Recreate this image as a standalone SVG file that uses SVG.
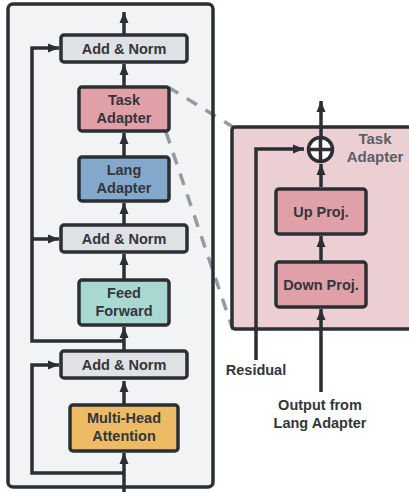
<svg xmlns="http://www.w3.org/2000/svg" width="409" height="492" viewBox="0 0 409 492">
<defs>
<marker id="ah" markerUnits="userSpaceOnUse" markerWidth="12" markerHeight="12" viewBox="0 0 12 12" refX="11" refY="6" orient="auto">
<path d="M0,1.5 L11,6 L0,10.5 Z" fill="#2b2f34"/>
</marker>
</defs>
<style>
.box{stroke:#2b2f34;stroke-width:3.5}
.ln{fill:none;stroke:#2b2f34;stroke-width:3.5}
.t{font-family:"Liberation Sans",Arial,sans-serif;font-weight:bold;font-size:14.5px;fill:#33363b;text-anchor:middle}
.g{fill:#5a5f68;font-size:15px}
.dash{fill:none;stroke:#959aa1;stroke-width:3.5;stroke-dasharray:12 10}
</style>
<g id="encoder-bg">
<rect x="8" y="4" width="205" height="483" rx="5" fill="#f2f3f5"/>
</g>
<g id="zoom-lines">
<line class="dash" x1="168" y1="87" x2="233" y2="127"/>
<line class="dash" x1="166" y1="132" x2="233" y2="330"/>
</g>
<g id="encoder-frame">
<rect x="8" y="4" width="205" height="483" rx="5" fill="none" stroke="#2b2f34" stroke-width="3.5"/>
</g>
<g id="task-adapter-detail">
<rect x="232" y="127" width="190" height="202" rx="3" fill="#eccfd2" stroke="#2b2f34" stroke-width="3.5"/>
<text class="t g" x="375" y="144">Task</text>
<text class="t g" x="375" y="162">Adapter</text>
</g>
<g id="connectors">
<path class="ln" d="M124,492 V453" marker-end="url(#ah)"/>
<path class="ln" d="M124,473 H32 V365 H59" marker-end="url(#ah)"/>
<path class="ln" d="M124,404 V381" marker-end="url(#ah)"/>
<path class="ln" d="M124,350 V327" marker-end="url(#ah)"/>
<path class="ln" d="M124,341 H32 V48 H59" marker-end="url(#ah)"/>
<path class="ln" d="M32,239 H59" marker-end="url(#ah)"/>
<path class="ln" d="M124,279 V254" marker-end="url(#ah)"/>
<path class="ln" d="M124,224 V203" marker-end="url(#ah)"/>
<path class="ln" d="M124,156 V133" marker-end="url(#ah)"/>
<path class="ln" d="M124,86 V64" marker-end="url(#ah)"/>
<path class="ln" d="M124,34 V12" marker-end="url(#ah)"/>
<path class="ln" d="M321,392 V309" marker-end="url(#ah)"/>
<path class="ln" d="M321,261 V236" marker-end="url(#ah)"/>
<path class="ln" d="M321,187 V164" marker-end="url(#ah)"/>
<path class="ln" d="M321,136 V101" marker-end="url(#ah)"/>
<path class="ln" d="M256,360 V149 H304" marker-end="url(#ah)"/>
</g>
<g id="add-norm-3">
<rect class="box" x="61" y="35" width="126" height="27" rx="3" fill="#dfe1e5"/>
<text class="t" x="124" y="53.5">Add &amp; Norm</text>
</g>
<g id="task-adapter">
<rect class="box" x="79" y="87" width="90" height="44" rx="3" fill="#e0a0a8"/>
<text class="t" x="124" y="104.5">Task</text>
<text class="t" x="124" y="122.5">Adapter</text>
</g>
<g id="lang-adapter">
<rect class="box" x="79" y="157" width="90" height="44" rx="3" fill="#84a8cb"/>
<text class="t" x="124" y="174.5">Lang</text>
<text class="t" x="124" y="192.5">Adapter</text>
</g>
<g id="add-norm-2">
<rect class="box" x="61" y="225" width="126" height="27" rx="3" fill="#dfe1e5"/>
<text class="t" x="124" y="243.5">Add &amp; Norm</text>
</g>
<g id="feed-forward">
<rect class="box" x="79" y="280" width="90" height="45" rx="3" fill="#a9d8d2"/>
<text class="t" x="124" y="297.5">Feed</text>
<text class="t" x="124" y="315.5">Forward</text>
</g>
<g id="add-norm-1">
<rect class="box" x="61" y="351" width="126" height="27" rx="3" fill="#dfe1e5"/>
<text class="t" x="124" y="369.5">Add &amp; Norm</text>
</g>
<g id="multi-head">
<rect class="box" x="70" y="405" width="108" height="46" rx="3" fill="#edbb66"/>
<text class="t" x="124" y="423">Multi-Head</text>
<text class="t" x="124" y="441">Attention</text>
</g>
<g id="sum">
<circle cx="320.5" cy="149.5" r="12" fill="#ffffff" stroke="#2b2f34" stroke-width="3.5"/>
<path d="M308.5,149.5 H332.5 M320.5,137.5 V161.5" stroke="#2b2f34" stroke-width="3.5"/>
</g>
<g id="up-proj">
<rect class="box" x="276" y="189" width="90" height="45" rx="3" fill="#e0a0a8"/>
<text class="t" x="321" y="216.5">Up Proj.</text>
</g>
<g id="down-proj">
<rect class="box" x="276" y="262" width="90" height="45" rx="3" fill="#e0a0a8"/>
<text class="t" x="321" y="289.5">Down Proj.</text>
</g>
<g id="labels">
<text class="t" x="256" y="375">Residual</text>
<text class="t" x="320" y="410">Output from</text>
<text class="t" x="320" y="428">Lang Adapter</text>
</g>
</svg>
